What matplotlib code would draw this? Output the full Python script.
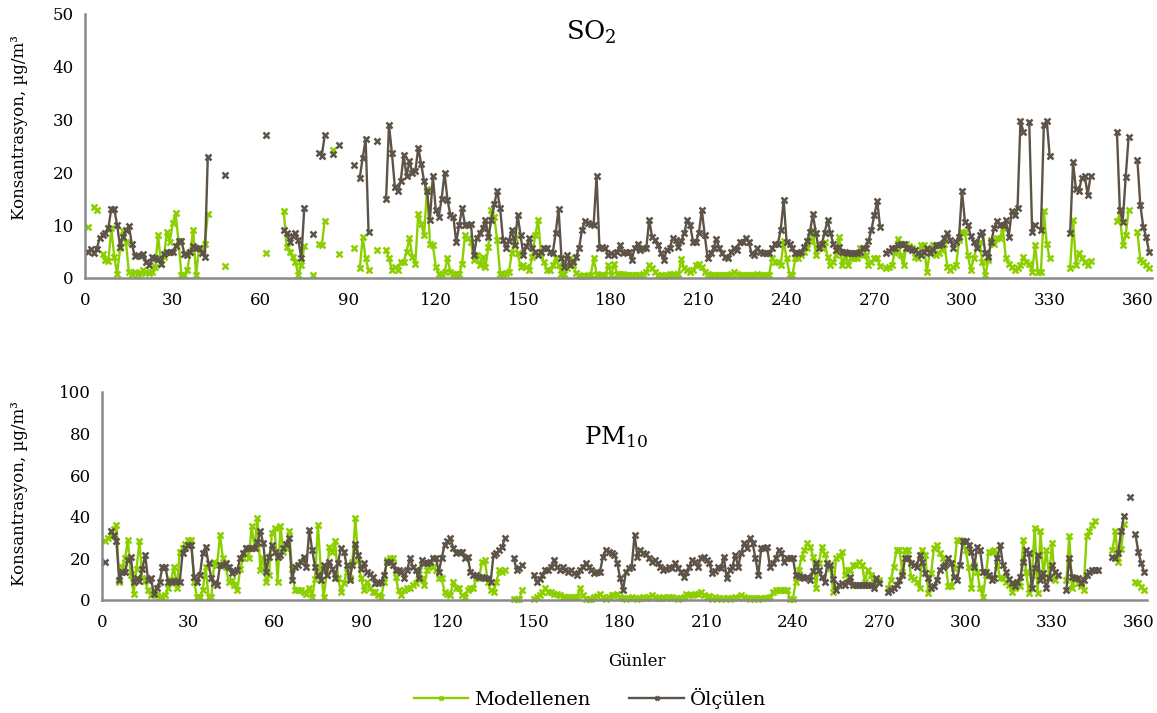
import numpy as np
import matplotlib
matplotlib.use("Agg")
import matplotlib.pyplot as plt

nan = np.nan

# daily values, day 1..365 (nan = no data)
days = np.arange(1, 366)

so2_model = [
    9.7, nan, 13.4, 12.9, nan, 4.6, 3.4, 3.2, 9.4, 4.0,
    0.8, 5.6, 8.9, 6.9, 1.1, 0.8, 1.2, 0.8, 1.0, 1.5,
    1.2, 0.9, 1.2, 2.0, 8.1, 2.7, 4.0, 8.7, 6.8, 10.4,
    12.3, 6.9, 0.5, 0.5, 1.5, 5.0, 9.1, 0.5, 5.6, 5.5,
    6.5, 12.1, nan, nan, nan, nan, nan, 2.3, nan, nan,
    nan, nan, nan, nan, nan, nan, nan, nan, nan, nan,
    nan, 4.7, nan, nan, nan, nan, nan, 12.6, 5.9, 5.0,
    4.0, 3.0, 0.5, 2.4, 6.0, nan, nan, 0.6, nan, 6.5,
    6.2, 10.8, nan, nan, 24.2, nan, 4.5, nan, nan, nan,
    nan, 5.6, nan, 1.8, 7.8, 3.7, 1.5, nan, nan, 5.3,
    nan, nan, 5.3, 3.7, 1.5, 2.1, 1.5, 3.0, 3.0, 5.0,
    7.5, 4.0, 2.7, 12.2, 10.3, 8.1, 16.9, 6.5, 6.2, 2.1,
    0.8, 0.8, 1.1, 3.8, 1.1, 0.8, 0.8, 0.8, 2.7, 8.1,
    7.5, 6.8, 3.4, 4.3, 2.4, 4.0, 2.1, 5.9, 12.9, 11.6,
    7.2, 0.8, 0.8, 0.9, 1.1, 4.7, 7.5, 4.7, 2.1, 2.4,
    2.0, 1.5, 4.0, 8.1, 11.0, 4.7, 3.0, 1.5, 1.5, 2.5,
    3.7, 2.4, 0.8, 0.8, 1.8, 3.7, 2.4, 1.0, 0.5, 0.3,
    0.3, 0.5, 0.5, 3.7, 0.8, 0.5, 0.5, 0.5, 2.4, 0.6,
    2.7, 0.8, 0.8, 0.7, 0.6, 0.5, 0.5, 0.5, 0.5, 0.6,
    0.8, 1.1, 2.5, 1.8, 1.1, 0.5, 0.5, 0.3, 0.5, 0.8,
    0.8, 0.5, 0.8, 3.6, 1.8, 1.5, 1.1, 1.5, 2.5, 2.7,
    2.1, 1.1, 0.8, 0.5, 0.6, 0.6, 0.5, 0.5, 0.6, 0.6,
    0.8, 1.1, 0.8, 0.6, 0.6, 0.5, 0.6, 0.5, 0.6, 0.8,
    0.5, 0.5, 0.5, 0.5, 3.7, 3.0, 3.0, 2.5, 7.0, 3.7,
    0.8, 0.5, 3.7, 3.7, 4.3, 5.0, 5.6, 7.0, 9.1, 4.3,
    6.2, 5.6, 6.9, 4.0, 2.4, 3.0, 4.3, 7.8, 2.4, 4.0,
    2.4, 3.7, 3.7, 3.7, 5.6, 4.3, 4.3, 2.4, 3.0, 3.7,
    3.7, 2.2, nan, 1.8, 2.0, 2.4, 4.7, 7.4, 4.3, 2.4,
    6.5, 6.0, 5.6, 4.0, 3.7, 6.2, 6.2, 1.1, 5.0, 6.2,
    4.3, 4.8, 5.3, 6.5, 2.1, 1.5, 2.0, 2.4, 7.2, 8.8,
    8.8, 4.3, 1.5, 3.7, 5.9, 6.9, 3.0, 0.5, 3.4, 7.2,
    6.5, 7.5, 7.5, 9.4, 3.7, 2.7, 2.1, 1.5, 1.8, 2.4,
    4.0, 3.0, 2.7, 1.1, 6.2, 1.1, 1.1, 12.6, 6.5, 3.7,
    nan, nan, nan, nan, nan, nan, 1.8, 11.0, 2.4, 4.7,
    3.7, 3.0, 2.4, 3.2, nan, nan, nan, nan, nan, nan,
    nan, nan, 10.8, 11.9, 6.2, 8.1, 12.9, nan, nan, 8.8,
    3.4, 3.0, 2.5, 1.8, nan,
]

so2_measured = [
    5.0, 5.5, 4.7, 5.5, 7.5, 8.1, 8.5, 9.5, 13.1, 13.1,
    10.0, 5.9, 7.8, 9.0, 9.9, 6.5, 4.2, 4.3, 4.2, 4.6,
    3.0, 2.4, 4.0, 3.8, 3.6, 2.7, 4.5, 5.0, 5.0, 5.0,
    6.0, 7.0, 7.0, 4.6, 4.3, 5.0, 6.0, 5.6, 5.6, 4.8,
    4.0, 22.9, nan, nan, nan, nan, nan, 19.5, nan, nan,
    nan, nan, nan, nan, nan, nan, nan, nan, nan, nan,
    nan, 27.0, nan, nan, nan, nan, nan, 9.1, 8.5, 6.9,
    8.0, 8.5, 7.2, 3.7, 13.2, nan, nan, 8.4, nan, 23.7,
    23.1, 27.0, nan, nan, 23.4, nan, 25.2, nan, nan, nan,
    nan, 21.4, nan, 19.0, 22.8, 26.3, 8.7, nan, nan, 25.9,
    nan, nan, 15.0, 29.0, 23.6, 17.2, 16.4, 18.3, 23.3, 19.3,
    22.1, 19.9, 20.2, 24.7, 21.6, 18.3, 16.4, 11.0, 19.3, 12.9,
    11.6, 15.0, 19.9, 14.8, 11.9, 11.6, 6.8, 10.0, 13.2, 10.1,
    10.1, 10.3, 4.3, 7.5, 8.5, 9.4, 11.0, 7.8, 11.0, 14.0,
    16.5, 13.3, 7.2, 5.6, 7.0, 9.1, 6.2, 11.9, 8.1, 4.3,
    6.0, 7.5, 5.6, 5.0, 4.3, 5.0, 5.6, 5.6, 5.0, 4.7,
    8.5, 13.1, 3.7, 2.1, 4.3, 2.4, 3.0, 4.0, 5.6, 9.1,
    10.8, 10.5, 10.3, 10.1, 19.3, 5.6, 5.8, 5.7, 4.3, 4.7,
    4.3, 5.0, 6.2, 4.7, 5.0, 5.0, 3.4, 5.6, 6.5, 5.3,
    5.6, 5.6, 11.0, 7.8, 7.2, 6.2, 4.7, 3.4, 5.3, 5.6,
    7.5, 7.2, 5.9, 7.0, 8.5, 11.0, 10.0, 6.9, 6.9, 8.5,
    12.9, 8.1, 3.7, 4.7, 5.6, 7.4, 5.6, 4.7, 4.0, 3.7,
    5.0, 5.6, 5.3, 6.9, 6.9, 7.6, 6.9, 4.7, 4.3, 5.6,
    5.0, 4.7, 4.7, 4.7, 5.6, 6.5, 6.5, 9.1, 14.8, 6.9,
    6.5, 5.6, 4.7, 4.7, 5.0, 5.9, 7.0, 8.8, 12.1, 8.5,
    5.6, 6.5, 8.5, 11.0, 8.5, 6.5, 5.3, 5.9, 5.0, 5.0,
    4.7, 4.7, 4.7, 4.8, 5.0, 5.6, 5.6, 7.0, 9.1, 11.9,
    14.6, 9.6, nan, 4.8, 5.2, 5.6, 5.7, 6.2, 6.5, 6.5,
    5.7, 5.6, 5.3, 5.3, 4.8, 4.3, 5.0, 5.6, 4.7, 5.3,
    6.2, 6.2, 6.5, 7.5, 8.5, 7.2, 5.6, 6.9, 7.8, 16.5,
    10.7, 10.0, 8.0, 6.9, 5.6, 8.1, 8.8, 4.7, 4.0, 6.9,
    9.4, 10.8, 10.0, 10.0, 11.0, 7.8, 12.6, 11.9, 13.2, 29.8,
    27.7, nan, 29.6, 8.8, 10.1, nan, 9.0, 29.0, 29.8, 23.1,
    nan, nan, nan, nan, nan, nan, 8.5, 21.9, 16.8, 16.5,
    19.0, 19.3, 15.8, 19.3, nan, nan, nan, nan, nan, nan,
    nan, nan, 27.7, 12.9, 10.7, 19.1, 26.7, nan, nan, 22.3,
    13.9, 9.7, 7.8, 5.0, nan,
]

pm10_model = [
    28.5, 29.8, 31.0, 34.0, 36.2, 8.7, 16.0, 20.0, 28.8, 12.0,
    3.1, 15.0, 28.5, 10.4, 9.0, 4.7, 2.3, 3.9, 2.3, 1.4,
    1.4, 2.3, 6.0, 9.6, 16.0, 5.6, 23.3, 25.0, 27.0, 28.8,
    28.8, 8.7, 1.4, 1.4, 4.7, 16.0, 1.4, 1.4, 18.4, 16.8,
    31.4, 20.0, 16.0, 8.7, 9.6, 7.2, 4.7, 15.0, 20.0, 25.0,
    20.0, 35.4, 25.0, 39.4, 14.4, 20.1, 8.7, 12.0, 32.2, 34.6,
    8.7, 35.4, 23.3, 25.0, 33.0, 15.0, 4.7, 4.7, 4.7, 3.9,
    3.1, 6.0, 1.4, 10.0, 36.2, 15.0, 1.4, 12.0, 25.7, 23.3,
    28.2, 10.4, 3.9, 8.0, 13.6, 10.4, 18.4, 39.4, 19.3, 10.4,
    4.7, 8.7, 6.0, 3.9, 3.9, 2.5, 1.4, 8.7, 19.3, 20.0,
    20.4, 11.2, 4.7, 2.3, 4.7, 5.6, 5.6, 7.2, 8.0, 14.4,
    10.0, 7.2, 14.4, 16.8, 16.0, 14.4, 10.4, 10.4, 3.9, 3.1,
    2.3, 8.7, 6.0, 5.6, 2.3, 1.4, 4.7, 5.6, 5.6, 10.4,
    10.4, 18.4, 19.3, 8.7, 4.7, 3.9, 8.7, 14.4, 13.6, 14.4,
    nan, nan, 0.6, 0.6, 0.6, 4.7, nan, nan, nan, 0.6,
    1.4, 2.5, 3.9, 5.6, 3.9, 3.9, 3.1, 3.1, 2.3, 1.4,
    1.4, 1.4, 1.4, 1.4, 1.4, 5.6, 2.3, 0.6, 0.6, 0.6,
    1.4, 2.0, 3.1, 1.4, 0.6, 1.4, 2.3, 2.3, 3.1, 1.4,
    1.0, 0.6, 1.0, 1.4, 1.0, 0.6, 1.0, 1.4, 1.0, 1.4,
    2.3, 1.4, 1.0, 1.0, 1.4, 1.0, 1.4, 1.4, 1.0, 0.6,
    1.0, 1.4, 3.1, 2.3, 2.3, 3.1, 3.1, 3.9, 2.3, 1.4,
    2.0, 0.6, 1.4, 1.0, 0.6, 1.0, 1.0, 0.6, 1.0, 1.4,
    1.0, 2.3, 1.4, 1.0, 0.6, 1.0, 1.0, 0.6, 1.0, 1.0,
    1.0, 1.4, 3.9, 4.7, 4.7, 4.7, 4.7, 4.7, 0.6, 0.6,
    8.7, 14.4, 20.1, 24.0, 27.3, 25.7, 20.9, 5.6, 17.6, 25.7,
    22.0, 18.0, 15.2, 3.9, 20.1, 21.0, 23.3, 12.0, 14.4, 14.4,
    16.8, 17.0, 18.4, 17.0, 8.7, 14.4, 12.0, 7.2, 9.6, 9.6,
    nan, nan, 5.6, 9.6, 16.0, 24.1, 24.1, 13.6, 24.1, 24.0,
    11.2, 10.0, 8.8, 5.6, 24.1, 21.7, 3.2, 12.8, 24.9, 26.5,
    22.5, 20.0, 18.4, 6.5, 6.5, 15.2, 29.0, 29.0, 28.5, 24.0,
    16.0, 5.6, 16.8, 13.6, 5.6, 1.6, 12.0, 23.3, 23.3, 24.1,
    16.8, 10.4, 10.4, 8.5, 7.2, 4.0, 5.6, 7.0, 6.5, 29.0,
    13.6, 3.2, 12.0, 34.6, 3.2, 33.0, 11.2, 24.1, 11.2, 27.3,
    9.6, nan, nan, nan, 9.6, 30.6, 5.6, 10.0, 8.0, 6.5,
    4.8, 30.6, 33.0, 36.2, 38.2, nan, nan, nan, nan, nan,
    24.0, 33.0, 18.4, 24.3, 36.4, nan, nan, nan, 8.7, 8.0,
    6.3, 4.9, nan, nan, nan,
]

pm10_measured = [
    18.4, nan, 33.3, 31.4, 28.2, 9.6, 13.6, 13.6, 19.3, 20.9,
    8.7, 10.4, 9.0, 15.0, 21.7, 9.6, 10.4, 3.1, 6.0, 8.7,
    16.0, 16.0, 8.7, 8.7, 9.0, 9.0, 8.7, 22.5, 25.0, 26.5,
    26.5, 11.2, 8.7, 12.0, 22.5, 25.7, 17.6, 10.4, 8.0, 7.2,
    16.8, 17.0, 17.6, 16.0, 13.0, 14.0, 14.4, 20.1, 22.5, 25.0,
    25.0, 25.0, 25.0, 28.0, 33.0, 27.3, 13.6, 20.9, 26.5, 23.3,
    20.9, 21.7, 25.0, 27.0, 29.8, 9.6, 16.0, 17.0, 18.4, 20.9,
    16.0, 33.8, 24.1, 16.0, 12.0, 9.6, 16.8, 12.0, 18.4, 15.0,
    10.4, 18.0, 25.0, 23.3, 16.8, 9.6, 17.0, 27.0, 21.7, 14.8,
    17.6, 13.6, 12.5, 11.2, 8.0, 8.0, 8.7, 12.0, 18.4, 18.4,
    17.0, 14.4, 14.4, 13.6, 10.4, 14.4, 20.1, 16.0, 14.4, 10.4,
    19.3, 17.6, 17.6, 18.4, 20.4, 20.0, 13.6, 20.0, 26.5, 28.2,
    29.8, 25.0, 22.5, 23.3, 23.3, 20.1, 20.9, 13.6, 12.0, 12.0,
    11.2, 11.2, 10.4, 10.4, 8.7, 21.7, 22.5, 24.0, 25.7, 29.8,
    nan, nan, 20.4, 14.4, 15.5, 16.8, nan, nan, nan, 12.0,
    8.7, 10.0, 12.0, 14.4, 14.4, 16.0, 19.3, 16.0, 14.4, 16.0,
    14.4, 13.6, 14.4, 13.0, 12.0, 14.4, 16.0, 17.6, 16.0, 14.4,
    12.8, 13.6, 13.6, 20.9, 24.1, 23.0, 22.5, 21.7, 17.6, 10.4,
    4.7, 13.6, 15.2, 16.0, 31.4, 20.9, 24.1, 22.5, 22.0, 20.1,
    18.4, 19.3, 17.6, 16.0, 14.4, 15.0, 16.0, 15.2, 17.6, 15.2,
    13.6, 11.2, 13.6, 16.0, 19.3, 18.4, 16.0, 20.1, 20.9, 19.3,
    17.6, 12.8, 14.0, 16.0, 15.2, 20.9, 10.4, 14.4, 16.0, 21.7,
    16.0, 22.5, 27.3, 25.0, 29.8, 27.3, 20.0, 12.0, 25.0, 25.0,
    25.7, 16.0, 17.6, 20.0, 24.1, 22.5, 18.4, 20.1, 20.1, 20.1,
    12.0, 11.5, 11.2, 10.4, 11.2, 9.6, 14.0, 17.6, 14.4, 11.2,
    8.7, 17.6, 16.8, 10.0, 4.7, 7.2, 8.0, 7.2, 8.7, 11.2,
    7.2, 7.2, 7.2, 7.2, 7.2, 7.2, 7.2, 5.6, 10.4, 8.0,
    nan, nan, 4.0, 4.8, 6.0, 7.2, 9.6, 12.0, 20.1, 20.1,
    18.0, 17.0, 16.0, 21.7, 18.4, 12.8, 10.4, 5.6, 6.5, 9.6,
    14.4, 16.0, 16.8, 20.1, 17.6, 11.2, 9.6, 16.8, 28.2, 28.2,
    26.5, 23.3, 16.0, 25.7, 24.1, 13.6, 13.6, 12.0, 9.6, 10.4,
    20.1, 26.5, 16.8, 13.6, 10.0, 8.0, 6.5, 8.8, 11.2, 18.4,
    24.1, 22.5, 5.6, 15.2, 21.7, 9.6, 12.8, 5.6, 10.4, 16.8,
    13.6, 12.0, nan, nan, 4.8, 20.1, 11.2, 10.4, 10.4, 8.0,
    9.6, 12.0, 13.6, 14.4, 14.6, 14.4, nan, nan, nan, nan,
    20.9, 20.4, 22.5, 33.0, 40.3, nan, 49.5, nan, 31.5, 23.0,
    17.6, 13.6, nan, nan, nan,
]

x_ticks = list(range(0, 361, 30))
green = "#8ccf00"
brown = "#5e5347"
axis_gray = "#8a8a8a"

plt.rcParams["font.family"] = ["DejaVu Serif"]
plt.rcParams["mathtext.fontset"] = "dejavuserif"

fig = plt.figure(figsize=(11.57, 7.13), dpi=100)
ax1 = fig.add_axes([85 / 1157, 1 - 278 / 713, 1067 / 1157, 264 / 713])
ax2 = fig.add_axes([102 / 1157, 1 - 600 / 713, 1045 / 1157, 208 / 713])


def draw(ax, model, measured, ymax, ystep, xmax):
    style = dict(marker="x", markersize=4.5, markeredgewidth=1.8,
                 linewidth=1.7, clip_on=False)
    ax.plot(days, np.array(model, dtype=float), color=green,
            label="Modellenen", **style)
    ax.plot(days, np.array(measured, dtype=float), color=brown,
            label="Ölçülen", **style)
    ax.set_xlim(0, xmax)
    ax.set_ylim(0, ymax)
    ax.set_xticks(x_ticks)
    ax.set_yticks(range(0, ymax + 1, ystep))
    for side in ["top", "right"]:
        ax.spines[side].set_visible(False)
    for side in ["left", "bottom"]:
        ax.spines[side].set_color(axis_gray)
        ax.spines[side].set_linewidth(1.8)
    ax.tick_params(axis="both", length=0, labelsize=12, colors="black")
    ax.tick_params(axis="x", pad=10)
    ax.tick_params(axis="y", pad=8)


draw(ax1, so2_model, so2_measured, 50, 10, 365)
draw(ax2, pm10_model, pm10_measured, 100, 20, 363)

fig.text(591 / 1157, 1 - 32 / 713, r"SO$_2$", ha="center", va="center", fontsize=18.5)
fig.text(616 / 1157, 1 - 437 / 713, r"PM$_{10}$", ha="center", va="center", fontsize=17.5)

fig.text(20 / 1157, 1 - 128 / 713, "Konsantrasyon, µg/m³", rotation=90,
         ha="center", va="center", fontsize=12)
fig.text(20 / 1157, 1 - 494 / 713, "Konsantrasyon, µg/m³", rotation=90,
         ha="center", va="center", fontsize=12)
fig.text(637 / 1157, 1 - 662 / 713, "Günler", ha="center", va="center", fontsize=12)

handles, labels = ax1.get_legend_handles_labels()
fig.legend(handles, labels, loc="center", bbox_to_anchor=(590 / 1157, 1 - 698 / 713),
           ncol=2, frameon=False, fontsize=14, handlelength=2.8,
           handletextpad=0.3, columnspacing=2.0, markerscale=0.6)

fig.savefig("out.png", dpi=100)
